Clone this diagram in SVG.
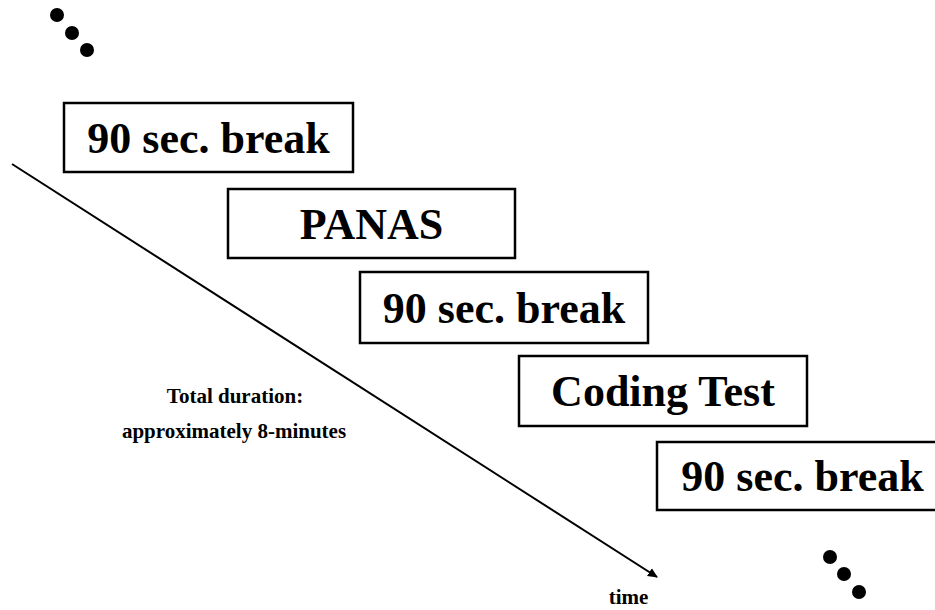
<svg xmlns="http://www.w3.org/2000/svg" width="935" height="610" viewBox="0 0 935 610">
<style>
.box{fill:#fff;stroke:#000;stroke-width:2.5}
.lbl{font-family:"Liberation Serif","Times New Roman",serif;font-weight:bold;font-size:44px;text-anchor:middle;fill:#000}
.sm{font-family:"Liberation Serif","Times New Roman",serif;font-weight:bold;font-size:21px;text-anchor:middle;fill:#000}
.dot{fill:#000}
</style>
<defs>
<marker id="ah" markerWidth="10" markerHeight="10" refX="9" refY="5" orient="auto" markerUnits="userSpaceOnUse">
<path d="M0,0.5 L10,5 L0,9.5 Z" fill="#000"/>
</marker>
</defs>
<rect width="935" height="610" fill="#fff"/>
<g id="dots-top">
<circle class="dot" cx="57" cy="15" r="7"/>
<circle class="dot" cx="72" cy="33" r="7"/>
<circle class="dot" cx="87" cy="50" r="7"/>
</g>
<g id="dots-bottom">
<circle class="dot" cx="830" cy="557" r="7"/>
<circle class="dot" cx="844" cy="574" r="7"/>
<circle class="dot" cx="859" cy="592" r="7"/>
</g>
<g id="connectors">
<line x1="12" y1="164" x2="657" y2="577" stroke="#000" stroke-width="2" marker-end="url(#ah)"/>
</g>
<g id="node1">
<rect class="box" x="64" y="103" width="289" height="69"/>
<text class="lbl" x="208.5" y="153">90 sec. break</text>
</g>
<g id="node2">
<rect class="box" x="228" y="189" width="287" height="69"/>
<text class="lbl" x="371.5" y="239">PANAS</text>
</g>
<g id="node3">
<rect class="box" x="360" y="272" width="288" height="71"/>
<text class="lbl" x="504" y="323">90 sec. break</text>
</g>
<g id="node4">
<rect class="box" x="519" y="356" width="288" height="70"/>
<text class="lbl" x="663" y="406">Coding Test</text>
</g>
<g id="node5">
<rect class="box" x="657" y="442" width="291" height="68"/>
<text class="lbl" x="802.5" y="491">90 sec. break</text>
</g>
<g id="labels">
<text class="sm" x="235" y="403">Total duration:</text>
<text class="sm" x="234" y="438">approximately 8-minutes</text>
<text class="sm" x="628.5" y="604">time</text>
</g>
</svg>
